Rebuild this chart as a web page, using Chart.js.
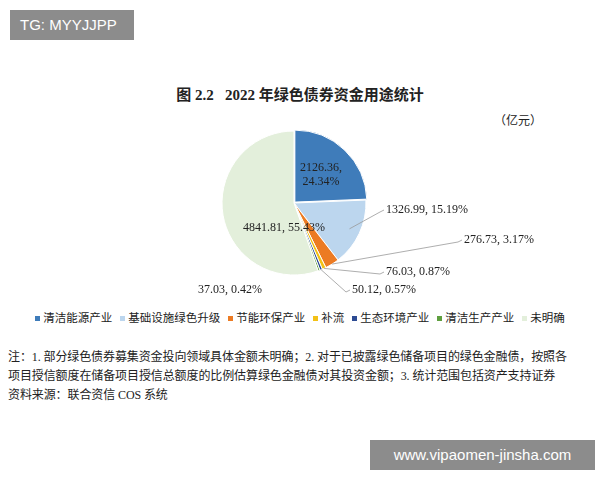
<!DOCTYPE html>
<html>
<head>
<meta charset="utf-8">
<script src="https://cdn.jsdelivr.net/npm/chart.js@4/dist/chart.umd.min.js"></script>
<style>
  body { margin:0; width:600px; height:480px; background:#fff; position:relative; overflow:hidden;
         font-family:"Liberation Serif","Noto Sans CJK SC",serif; color:#222; }
  .abs { position:absolute; }
  #wm1 { left:10px; top:10px; width:124px; height:30px; background:#8c8c8c; color:#fff;
         font:15px "Liberation Sans",sans-serif; line-height:30px; padding-left:10px; box-sizing:border-box; }
  #wm2 { left:370px; top:440px; width:225px; height:30px; background:#8c8c8c; color:#fff;
         font:15px "Liberation Sans",sans-serif; line-height:30px; text-align:center; }
  #title { left:0; width:600px; top:83px; text-align:center; font-weight:bold; font-size:15px; }
  #unit { left:494px; top:111px; font-size:12px; }
  #note { left:8px; top:348px; width:592px; font-size:12px; line-height:19px; letter-spacing:-0.1px; }
  #chartBox { left:0; top:120px; width:600px; height:185px; }
  #legend { left:0; top:309px; width:600px; text-align:center; font:11.5px "Noto Sans CJK SC",sans-serif; white-space:nowrap; }
  #legend span { margin:0 4px; }
  #legend i { display:inline-block; width:5px; height:5px; margin-right:3px; vertical-align:middle; }
</style>
</head>
<body>
<div class="abs" id="wm1">TG: MYYJJPP</div>
<div class="abs" id="title">图 2.2&nbsp;&nbsp;&nbsp;2022 年绿色债券资金用途统计</div>
<div class="abs" id="unit">（亿元）</div>
<div class="abs" id="chartBox"><canvas id="chartId"></canvas></div>
<div class="abs" id="legend"></div>
<div class="abs" id="note">注：1. 部分绿色债券募集资金投向领域具体金额未明确；2. 对于已披露绿色储备项目的绿色金融债，按照各<br>项目授信额度在储备项目授信总额度的比例估算绿色金融债对其投资金额；3. 统计范围包括资产支持证券<br>资料来源：联合资信 COS 系统</div>
<div class="abs" id="wm2">www.vipaomen-jinsha.com</div>
<script>
const categories = ['清洁能源产业', '基础设施绿色升级', '节能环保产业', '补流', '生态环境产业', '清洁生产产业', '未明确'];
const amounts = [2126.36, 1326.99, 276.73, 76.03, 50.12, 37.03, 4841.81];
const shares = ['24.34%', '15.19%', '3.17%', '0.87%', '0.57%', '0.42%', '55.43%'];
const colors = ['#3f7cba', '#bcd6ee', '#ec7b23', '#f3c116', '#2d4b93', '#5f9f3f', '#e3efdb'];

// where each label sits; inside labels have no leader line
const labelSpots = [
  { x: 321, y: 55, inside: true, twoLines: true },
  { x: 386, y: 90, align: 'left' },
  { x: 464, y: 120, align: 'left' },
  { x: 386, y: 152, align: 'left' },
  { x: 352, y: 170, align: 'left' },
  { x: 262, y: 170, align: 'right', noLine: true },
  { x: 284, y: 108, inside: true }
];

document.getElementById('legend').innerHTML = categories
  .map((c, i) => `<span><i style="background:${colors[i]}"></i>${c}</span>`)
  .join('');

const sliceLabels = {
  id: 'sliceLabels',
  afterDatasetsDraw(chart) {
    const ctx = chart.ctx;
    const arcs = chart.getDatasetMeta(0).data;
    ctx.save();
    ctx.font = '12px "Liberation Serif", serif';
    ctx.fillStyle = '#222';
    ctx.textBaseline = 'middle';
    arcs.forEach((arc, i) => {
      const spot = labelSpots[i];
      const txt = amounts[i].toFixed(2) + ', ' + shares[i];
      if (spot.inside) {
        ctx.textAlign = 'center';
        if (spot.twoLines) {
          ctx.fillText(amounts[i].toFixed(2) + ',', spot.x, spot.y - 7);
          ctx.fillText(shares[i], spot.x, spot.y + 7);
        } else {
          ctx.fillText(txt, spot.x, spot.y);
        }
        return;
      }
      if (!spot.noLine) {
        const p = arc.getProps(['x', 'y', 'startAngle', 'endAngle', 'outerRadius']);
        const mid = (p.startAngle + p.endAngle) / 2;
        const r = i === 1 ? p.outerRadius * 0.85 : p.outerRadius;
        ctx.strokeStyle = '#999';
        ctx.lineWidth = 0.8;
        ctx.beginPath();
        ctx.moveTo(p.x + Math.cos(mid) * r, p.y + Math.sin(mid) * r);
        ctx.lineTo(spot.x - 6, spot.y + 2);
        ctx.lineTo(spot.x - 2, spot.y);
        ctx.stroke();
      }
      ctx.textAlign = spot.align;
      ctx.fillText(txt, spot.x, spot.y);
    });
    ctx.restore();
  }
};

const chrt = document.getElementById('chartId').getContext('2d');
const pieChart = new Chart(chrt, {
  type: 'pie',
  data: {
    labels: categories,
    datasets: [{
      data: amounts,
      backgroundColor: colors,
      borderColor: '#fff',
      borderWidth: 1,
      offset: [5, 0, 0, 0, 0, 0, 0]
    }]
  },
  options: {
    responsive: true,
    maintainAspectRatio: false,
    animation: false,
    layout: { padding: { top: 8, bottom: 27, left: 0, right: 12 } },
    plugins: {
      tooltip: { enabled: false },
      legend: { display: false }
    }
  },
  plugins: [sliceLabels]
});
</script>
</body>
</html>
